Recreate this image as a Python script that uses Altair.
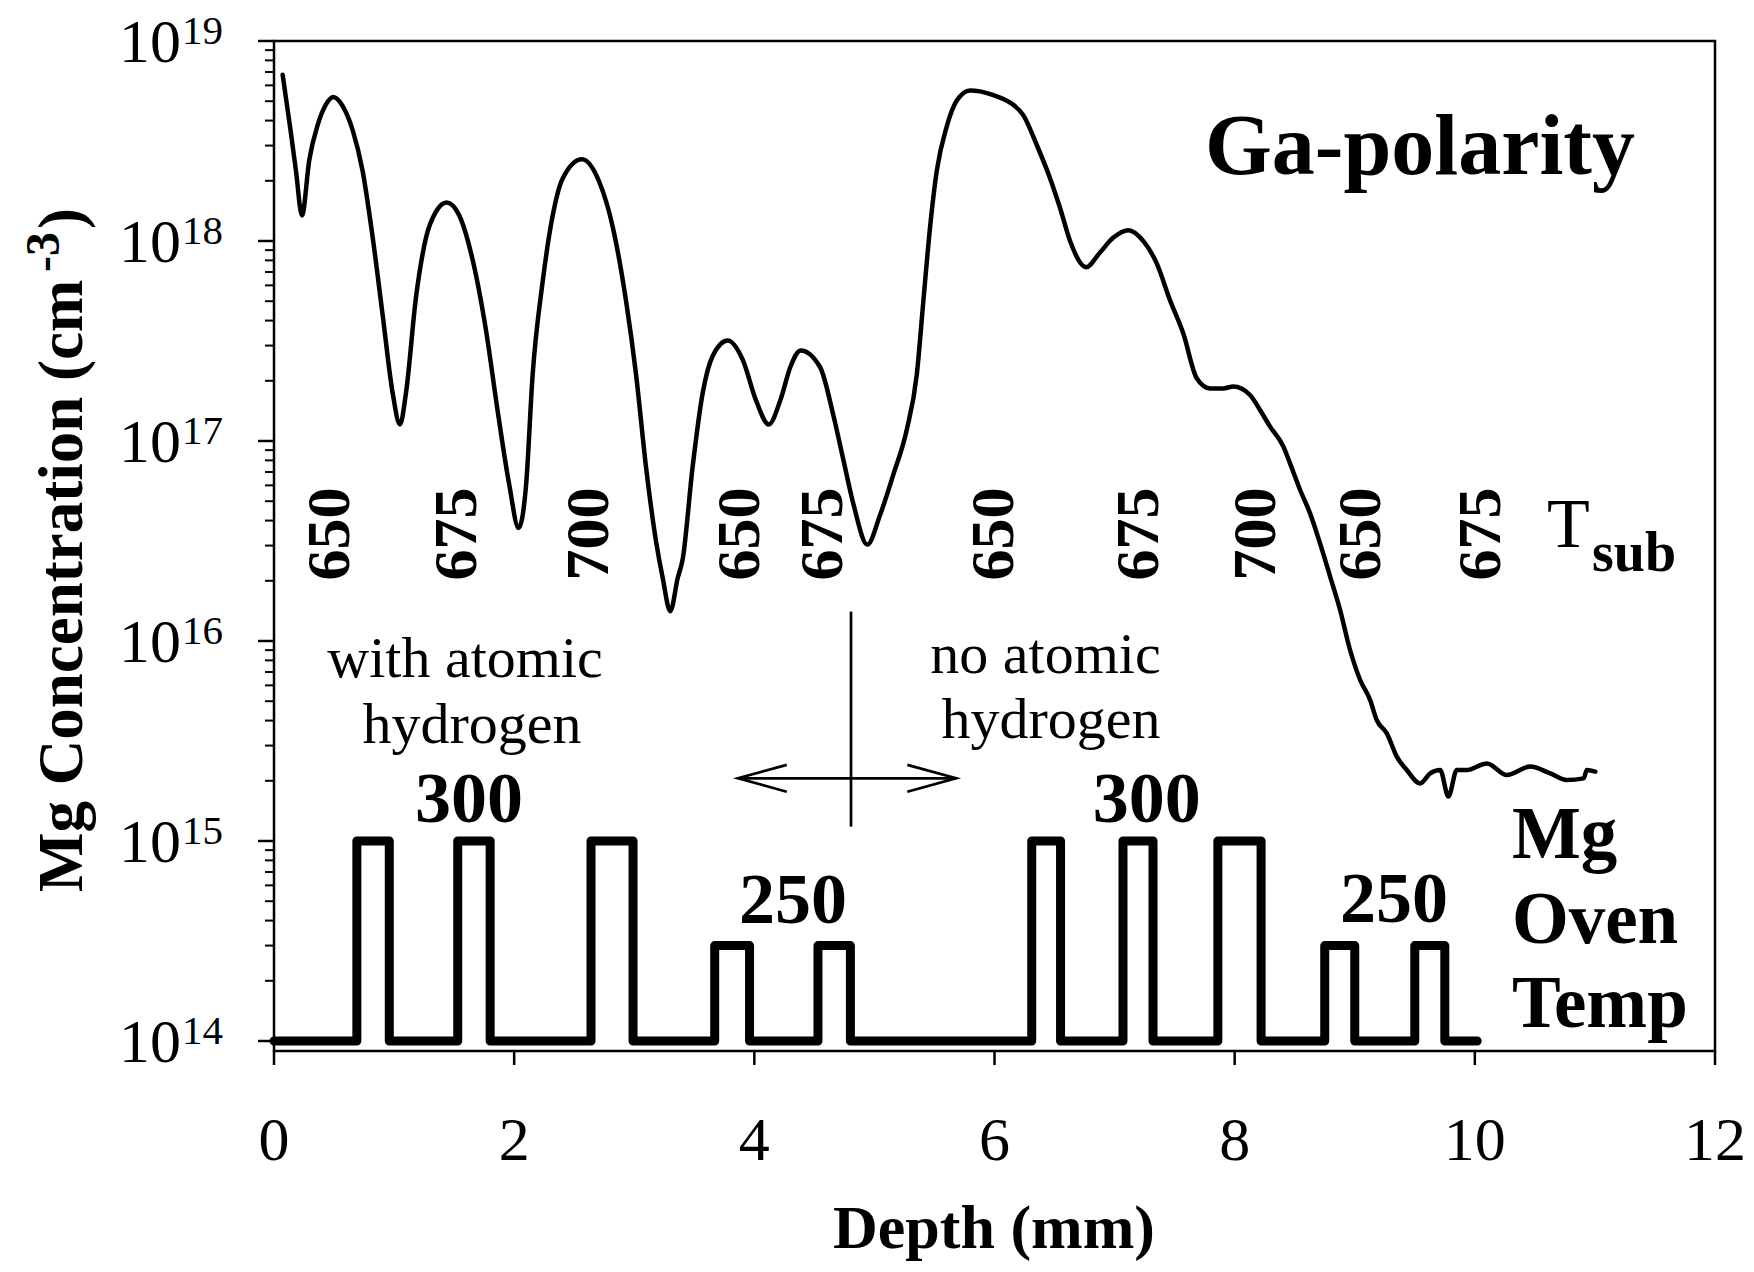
import altair as alt
import pandas as pd

FONT = "Liberation Serif"

# ---------------- data ----------------
# SIMS Mg profile: depth (um) and log10 of concentration (cm^-3)
sims_depth = [0.072, 0.142, 0.183, 0.233, 0.294, 0.364, 0.433, 0.494, 0.572, 0.655,
              0.738, 0.822, 0.905, 0.988, 1.049, 1.099, 1.183, 1.266, 1.349, 1.438,
              1.543, 1.654, 1.765, 1.863, 1.96, 2.037, 2.099, 2.154, 2.237, 2.321,
              2.404, 2.565, 2.709, 2.82, 2.931, 3.015, 3.098, 3.181, 3.237, 3.3,
              3.362, 3.403, 3.486, 3.57, 3.653, 3.778, 3.903, 4.014, 4.12, 4.22,
              4.30, 4.386, 4.547, 4.658, 4.741, 4.825, 4.941, 5.047, 5.158, 5.269,
              5.353, 5.408, 5.464, 5.519, 5.602, 5.686, 5.797, 5.880, 5.991, 6.130,
              6.241, 6.352, 6.463, 6.546, 6.630, 6.763, 6.879, 6.990, 7.115, 7.240,
              7.351, 7.462, 7.573, 7.684, 7.795, 7.906, 7.989, 8.128, 8.211, 8.295,
              8.406, 8.461, 8.545, 8.628, 8.711, 8.795, 8.878, 8.961, 9.045, 9.128,
              9.183, 9.267, 9.350, 9.433, 9.544, 9.628, 9.711, 9.780, 9.850, 9.933,
              10.100, 10.267, 10.461, 10.628, 10.767, 10.906, 10.933, 11.003]
sims_log = [18.831, 18.535, 18.35, 18.128, 18.406, 18.581, 18.683, 18.72, 18.674, 18.554,
            18.35, 18.017, 17.629, 17.24, 17.083, 17.24, 17.721, 18.017, 18.147, 18.193,
            18.128, 17.906, 17.555, 17.148, 16.778, 16.565, 16.778, 17.333, 17.795, 18.128,
            18.313, 18.409, 18.295, 18.073, 17.703, 17.333, 16.870, 16.500, 16.315, 16.149,
            16.315, 16.408, 16.870, 17.240, 17.425, 17.503, 17.407, 17.203, 17.083, 17.21,
            17.37, 17.453, 17.370, 17.129, 16.907, 16.685, 16.482, 16.630, 16.833, 17.055,
            17.333, 17.703, 18.073, 18.350, 18.572, 18.702, 18.753, 18.748, 18.729, 18.692,
            18.628, 18.480, 18.313, 18.165, 17.999, 17.869, 17.943, 18.017, 18.054, 17.999,
            17.888, 17.703, 17.536, 17.314, 17.263, 17.263, 17.272, 17.230, 17.155, 17.072,
            16.972, 16.888, 16.755, 16.638, 16.488, 16.322, 16.155, 15.955, 15.805, 15.705,
            15.605, 15.538, 15.422, 15.355, 15.288, 15.338, 15.355, 15.222, 15.355, 15.355,
            15.388, 15.330, 15.372, 15.338, 15.305, 15.313, 15.355, 15.347]

# Mg oven temperature schedule drawn as a step trace (log10 level)
pulse_start = [0.69, 1.53, 2.64, 3.67, 4.53, 6.31, 7.07, 7.86, 8.75, 9.50]
pulse_end = [0.96, 1.80, 2.99, 3.96, 4.80, 6.55, 7.32, 8.22, 9.00, 9.75]
pulse_level = [15, 15, 15, 14.477, 14.477, 15, 15, 15, 14.477, 14.477]
oven_first, oven_last = 0.0, 10.02
oven_base = 14

# Substrate temperature labels
tsub_labels = ["650", "675", "700", "650", "675", "650", "675", "700", "650", "675"]
tsub_x = [0.625, 1.682, 2.779, 4.042, 4.728, 6.157, 7.364, 8.336, 9.211, 10.21]
tsub_y = 16.535

# Oven temperature labels
oven_labels = ["300", "250", "300", "250"]
oven_lab_x = [1.624, 4.322, 7.267, 9.327]
oven_lab_y = [15.095, 14.59, 15.095, 14.595]

# Region notes
note_lines = ["with atomic", "hydrogen", "no atomic", "hydrogen"]
note_x = [1.591, 1.649, 6.425, 6.47]
note_y = [15.8215, 15.49, 15.8415, 15.515]

mg_lines = ["Mg", "Oven", "Temp"]
mg_x = 10.309
mg_y = [14.9135, 14.4885, 14.0715]

# divider and double arrow
div_x, div_y_top, div_y_bot = 4.805, 16.147, 15.072
arr_x0, arr_x1, arr_y = 3.864, 5.68, 15.3135
head_dx, head_dy = 0.406, 0.067

x_ticks = [0, 2, 4, 6, 8, 10, 12]
y_major = [14, 15, 16, 17, 18, 19]

# ---------------- tables ----------------
sims = pd.DataFrame({"i": range(len(sims_depth)), "x": sims_depth,
                     "y": [10 ** v for v in sims_log]})

steps = [(oven_first, oven_base)]
for s, e, l in zip(pulse_start, pulse_end, pulse_level):
    steps += [(s, oven_base), (s, l), (e, l), (e, oven_base)]
steps.append((oven_last, oven_base))
oven = pd.DataFrame({"i": range(len(steps)), "x": [p[0] for p in steps],
                     "y": [10 ** p[1] for p in steps]})

minor = pd.DataFrame({"v": [m * 10 ** e for e in range(14, 19) for m in range(2, 10)]})
majors = pd.DataFrame({"v": [10.0 ** e for e in y_major], "base": "10",
                       "exp": [str(e) for e in y_major]})
xt = pd.DataFrame({"x": x_ticks, "t": [str(v) for v in x_ticks]})

tsub = pd.DataFrame({"x": tsub_x, "y": 10 ** tsub_y, "t": tsub_labels})
ovl = pd.DataFrame({"x": oven_lab_x, "y": [10 ** v for v in oven_lab_y], "t": oven_labels})
notes = pd.DataFrame({"x": note_x, "y": [10 ** v for v in note_y], "t": note_lines})
mg = pd.DataFrame({"x": mg_x, "y": [10 ** v for v in mg_y], "t": mg_lines})
heads = pd.DataFrame({
    "g": ["L", "L", "L", "R", "R", "R"],
    "i": [0, 1, 2, 0, 1, 2],
    "x": [arr_x0 + head_dx, arr_x0, arr_x0 + head_dx, arr_x1 - head_dx, arr_x1, arr_x1 - head_dx],
    "y": [10 ** (arr_y + head_dy), 10 ** arr_y, 10 ** (arr_y - head_dy),
          10 ** (arr_y + head_dy), 10 ** arr_y, 10 ** (arr_y - head_dy)],
})
one = pd.DataFrame({"a": [0]})

xs = alt.Scale(domain=[0, 12], nice=False, zero=False)
ys = alt.Scale(type="log", domain=[10 ** 13.95, 1e19], nice=False)

X = lambda f="x:Q": alt.X(f, scale=xs, axis=None)
Y = lambda f="y:Q": alt.Y(f, scale=ys, axis=None)

oven_line = alt.Chart(oven).mark_line(color="black", strokeWidth=9, strokeJoin="round",
                                      strokeCap="round").encode(
    x=X(), y=Y(), order="i:Q")

sims_line = alt.Chart(sims).mark_line(color="black", strokeWidth=4.5, strokeJoin="round",
                                      strokeCap="round", interpolate="monotone").encode(
    x=X(), y=Y(), order="i:Q")

# axis ticks and tick labels
x_tick_marks = alt.Chart(xt).mark_rule(color="black", strokeWidth=2.5).encode(
    x=X(), y=alt.value(1010), y2=alt.value(1024))
x_tick_labels = alt.Chart(xt).mark_text(font=FONT, fontSize=62, align="center",
                                        baseline="alphabetic", color="black").encode(
    x=X(), y=alt.value(1119), text="t:N")
minor_ticks = alt.Chart(minor).mark_rule(color="black", strokeWidth=2).encode(
    y=Y("v:Q"), x=alt.value(-9), x2=alt.value(0))
major_ticks = alt.Chart(majors).mark_rule(color="black", strokeWidth=2.5).encode(
    y=Y("v:Q"), x=alt.value(-16), x2=alt.value(0))
ytl_base = alt.Chart(majors).mark_text(font=FONT, fontSize=62, align="right",
                                       baseline="alphabetic", dy=21, color="black").encode(
    y=Y("v:Q"), x=alt.value(-93), text="base:N")
ytl_exp = alt.Chart(majors).mark_text(font=FONT, fontSize=41, align="left",
                                      baseline="alphabetic", dy=3, color="black").encode(
    y=Y("v:Q"), x=alt.value(-92), text="exp:N")

divider = alt.Chart(pd.DataFrame({"x": [div_x], "y": [10 ** div_y_top], "y2": [10 ** div_y_bot]})
                    ).mark_rule(color="black", strokeWidth=2.7).encode(
    x=X(), y=Y(), y2="y2:Q")
shaft = alt.Chart(pd.DataFrame({"x": [arr_x0], "x2": [arr_x1], "y": [10 ** arr_y]})
                  ).mark_rule(color="black", strokeWidth=2.7).encode(
    x=X(), x2="x2:Q", y=Y())
head_lines = alt.Chart(heads).mark_line(color="black", strokeWidth=2.7).encode(
    x=X(), y=Y(), detail="g:N", order="i:Q")

tsub_text = alt.Chart(tsub).mark_text(font=FONT, fontSize=62, fontWeight="bold", angle=270,
                                      align="center", baseline="alphabetic", color="black"
                                      ).encode(x=X(), y=Y(), text="t:N")
tsub_T = alt.Chart(pd.DataFrame({"x": [10.601], "y": [10 ** 16.47], "t": ["T"]})).mark_text(
    font=FONT, fontSize=70, align="left", baseline="alphabetic", color="black").encode(
    x=X(), y=Y(), text="t:N")
tsub_sub = alt.Chart(pd.DataFrame({"x": [10.976], "y": [10 ** 16.35], "t": ["sub"]})).mark_text(
    font=FONT, fontSize=56, fontWeight="bold", align="left", baseline="alphabetic",
    color="black").encode(x=X(), y=Y(), text="t:N")

oven_text = alt.Chart(ovl).mark_text(font=FONT, fontSize=72, fontWeight="bold", align="center",
                                     baseline="alphabetic", color="black").encode(
    x=X(), y=Y(), text="t:N")
note_text = alt.Chart(notes).mark_text(font=FONT, fontSize=58, align="center",
                                       baseline="alphabetic", color="black").encode(
    x=X(), y=Y(), text="t:N")
mg_text = alt.Chart(mg).mark_text(font=FONT, fontSize=73, fontWeight="bold", align="left",
                                  baseline="alphabetic", color="black").encode(
    x=X(), y=Y(), text="t:N")
ga_text = alt.Chart(pd.DataFrame({"x": [9.543], "y": [10 ** 18.335], "t": ["Ga-polarity"]})
                    ).mark_text(font=FONT, fontSize=86, fontWeight="bold", align="center",
                                baseline="alphabetic", color="black").encode(
    x=X(), y=Y(), text="t:N")

# axis titles (pixel positions relative to the plot area)
x_title = alt.Chart(one).mark_text(font=FONT, fontSize=62, fontWeight="bold", align="center",
                                   baseline="alphabetic", color="black",
                                   text="Depth (mm)").encode(
    x=alt.value(720), y=alt.value(1207))
y_title_main = alt.Chart(one).mark_text(font=FONT, fontSize=63, fontWeight="bold", angle=270,
                                        align="left", baseline="alphabetic", color="black",
                                        text="Mg Concentration (cm").encode(
    x=alt.value(-192), y=alt.value(851))
y_title_sup = alt.Chart(one).mark_text(font=FONT, fontSize=48, fontWeight="bold", angle=270,
                                       align="left", baseline="alphabetic", color="black",
                                       text="-3").encode(
    x=alt.value(-215), y=alt.value(231))
y_title_end = alt.Chart(one).mark_text(font=FONT, fontSize=63, fontWeight="bold", angle=270,
                                       align="left", baseline="alphabetic", color="black",
                                       text=")").encode(
    x=alt.value(-192), y=alt.value(188))

chart = alt.layer(
    oven_line, sims_line, x_tick_marks, x_tick_labels, minor_ticks, major_ticks,
    ytl_base, ytl_exp, divider, shaft, head_lines,
    tsub_text, tsub_T, tsub_sub, oven_text, note_text, mg_text, ga_text,
    x_title, y_title_main, y_title_sup, y_title_end,
).properties(
    width=1441, height=1010,
    autosize=alt.AutoSizeParams(type="none"),
    padding={"left": 266, "top": 33, "right": 31, "bottom": 211},
    background="white",
).configure_view(stroke="black", strokeWidth=2.5)

chart.save("out.html", embed_options={"renderer": "svg", "actions": False})
